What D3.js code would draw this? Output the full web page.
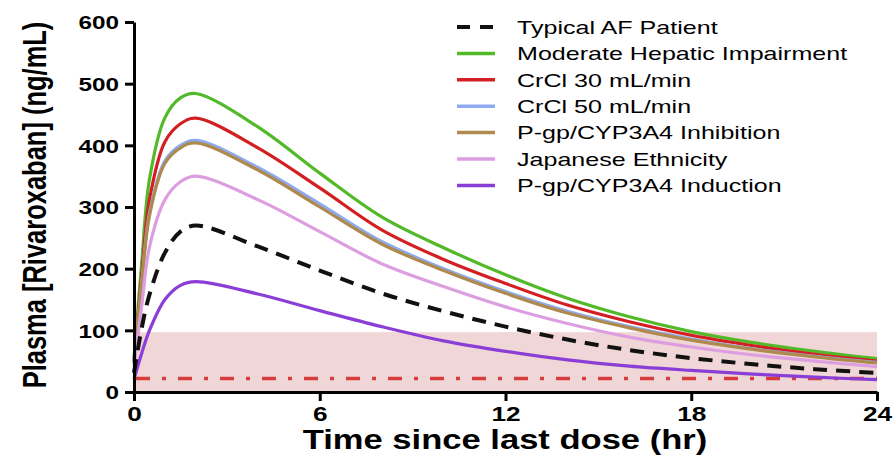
<!DOCTYPE html>
<html>
<head>
<meta charset="utf-8">
<script src="https://cdn.jsdelivr.net/npm/d3@7/dist/d3.min.js"></script>
<style>
  html, body { margin: 0; padding: 0; background: #ffffff; }
  svg { display: block; }
  text { font-family: "Liberation Sans", Arial, Helvetica, sans-serif; fill: #000; }
</style>
</head>
<body>
<svg id="chart" width="895" height="460"></svg>
<script>
// Simulated steady-state rivaroxaban plasma concentration over one dosing interval
const times = [0, 0.25, 0.5, 1, 1.5, 2, 4, 6, 8, 10, 12, 14, 16, 18, 20, 22, 24];

const typicalAF      = [31, 104, 158, 226, 260, 270, 236, 197, 160, 131, 106, 85, 68, 55, 45, 37, 31];
const hepaticImpair  = [55, 210, 345, 445, 477, 484, 430, 355, 284, 234, 190, 152, 122, 98, 80, 66, 54];
const crcl30         = [50, 190, 312, 406, 435, 444, 396, 331, 263, 215, 176, 141, 114, 92, 75, 61, 50];
const crcl50         = [48, 178, 290, 375, 400, 408, 364, 305, 244, 200, 163, 131, 106, 86, 70, 58, 48];
const pgpInhibition  = [47, 175, 286, 371, 396, 404, 360, 300, 240, 197, 160, 128, 104, 84, 69, 57, 47];
const japanese       = [42, 140, 235, 312, 341, 350, 312, 260, 208, 171, 138, 111, 89, 73, 60, 50, 41];
const pgpInduction   = [21, 63, 100, 150, 173, 179, 159, 132, 106, 83, 66, 52, 42, 35, 29, 24, 20];

const seriesNames = [
  "Typical AF Patient",
  "Moderate Hepatic Impairment",
  "CrCl 30 mL/min",
  "CrCl 50 mL/min",
  "P-gp/CYP3A4 Inhibition",
  "Japanese Ethnicity",
  "P-gp/CYP3A4 Induction"
];
const seriesValues = [typicalAF, hepaticImpair, crcl30, crcl50, pgpInhibition, japanese, pgpInduction];
const seriesColors = ["#111111", "#52b928", "#d41f22", "#8eaaf0", "#ae8a4e", "#dc9ee0", "#8a3ed6"];

// On-therapy reference range (shaded) and lower threshold (dash-dot)
const rangeBand = [0, 97];
const thresholdValue = 22;

const xTicks = [0, 6, 12, 18, 24];
const yTicks = [0, 100, 200, 300, 400, 500, 600];

const SX = 1.28; // horizontal text stretch

const svg = d3.select("#chart");
svg.append("rect").attr("width", 895).attr("height", 460).attr("fill", "#fff");

const x = d3.scaleLinear().domain([0, 24]).range([134, 877]);
const y = d3.scaleLinear().domain([0, 600]).range([392, 22]);

// shaded range
svg.append("rect")
  .attr("x", x(0)).attr("width", x(24) - x(0))
  .attr("y", y(rangeBand[1])).attr("height", y(rangeBand[0]) - y(rangeBand[1]))
  .attr("fill", "#f0d6d6");

// threshold line
svg.append("line")
  .attr("x1", x(0) + 2).attr("x2", x(24))
  .attr("y1", y(thresholdValue)).attr("y2", y(thresholdValue))
  .attr("stroke", "#d63c3c").attr("stroke-width", 3.5)
  .attr("stroke-dasharray", "14,12,4,12");

// concentration curves
const line = d3.line()
  .x((d, i) => x(times[i]))
  .y(d => y(d))
  .curve(d3.curveCatmullRom.alpha(0.5));

const order = [1, 2, 3, 4, 5, 6, 0];
order.forEach(k => {
  svg.append("path")
    .datum(seriesValues[k])
    .attr("d", line)
    .attr("fill", "none")
    .attr("stroke", seriesColors[k])
    .attr("stroke-width", k === 0 ? 4 : 3.2)
    .attr("stroke-dasharray", k === 0 ? "14,9" : null)
    .attr("stroke-linejoin", "round");
});

// axes
const yAxis = svg.append("g")
  .attr("transform", `translate(${x(0)},0)`)
  .call(d3.axisLeft(y).tickValues(yTicks).tickSize(9).tickSizeOuter(0).tickFormat(d3.format("d")));
const xAxis = svg.append("g")
  .attr("transform", `translate(0,${y(0)})`)
  .call(d3.axisBottom(x).tickValues(xTicks).tickSize(9).tickSizeOuter(0).tickFormat(d3.format("d")));

[yAxis, xAxis].forEach(g => {
  g.select(".domain").attr("stroke", "#000").attr("stroke-width", 3);
  g.selectAll(".tick line").attr("stroke", "#000").attr("stroke-width", 3);
});

yAxis.selectAll(".tick text")
  .attr("font-size", 19).attr("font-weight", "bold")
  .attr("x", -15 / SX).attr("dy", "0.36em")
  .attr("transform", `scale(${SX},1)`);

xAxis.selectAll(".tick text")
  .attr("font-size", 20.5).attr("font-weight", "bold")
  .attr("y", 14).attr("dy", "0.71em")
  .attr("transform", `scale(${SX},1)`);

// axis titles
svg.append("text")
  .attr("transform", `translate(505,449) scale(${SX},1)`)
  .attr("text-anchor", "middle")
  .attr("font-size", 27).attr("font-weight", "bold")
  .text("Time since last dose (hr)");

svg.append("text")
  .attr("transform", `translate(46,205) scale(${SX},1) rotate(-90)`)
  .attr("text-anchor", "middle")
  .attr("font-size", 25.5).attr("font-weight", "bold")
  .text("Plasma [Rivaroxaban] (ng/mL)");

// legend
const legend = svg.append("g");
seriesNames.forEach((name, i) => {
  const cy = 27 + i * 26.4;
  legend.append("line")
    .attr("x1", 457).attr("x2", 495)
    .attr("y1", cy).attr("y2", cy)
    .attr("stroke", seriesColors[i])
    .attr("stroke-width", i === 0 ? 4 : 3.5)
    .attr("stroke-dasharray", i === 0 ? "13,10" : null);
  legend.append("text")
    .attr("transform", `translate(517,${cy}) scale(1.32,1)`)
    .attr("dy", "0.36em")
    .attr("font-size", 19)
    .text(name);
});
</script>
</body>
</html>
